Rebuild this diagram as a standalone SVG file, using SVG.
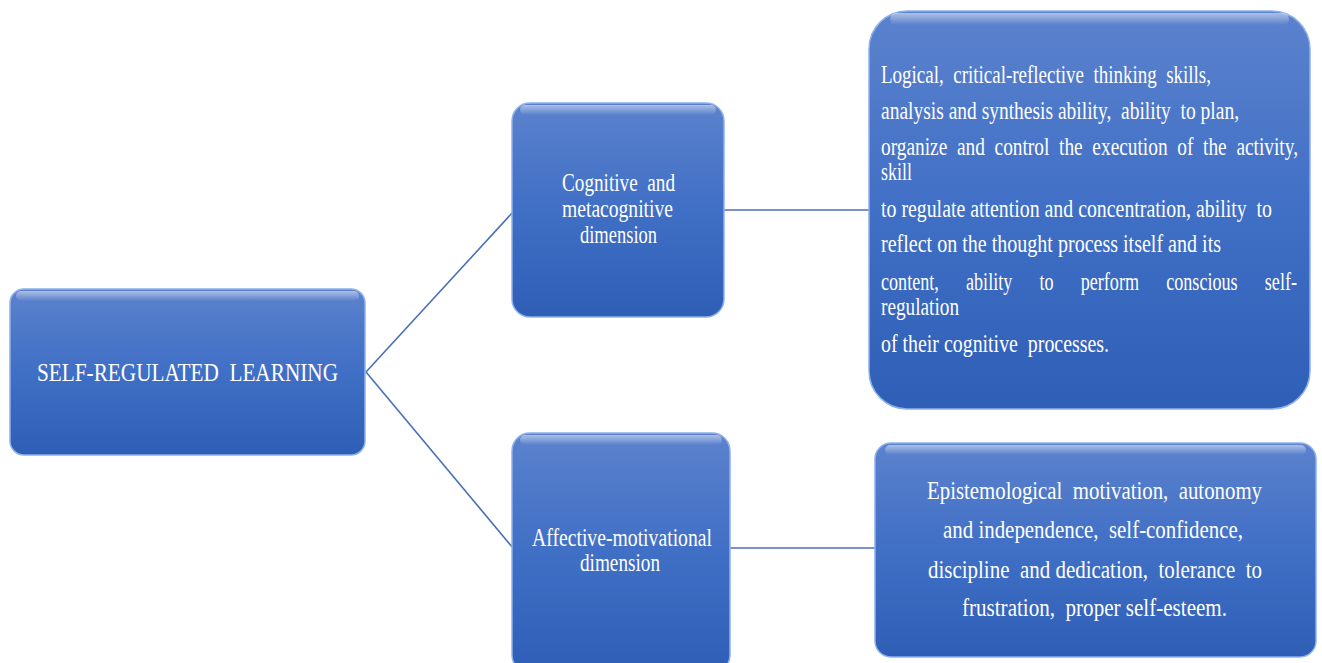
<svg xmlns="http://www.w3.org/2000/svg" width="1322" height="663" viewBox="0 0 1322 663">
<defs>
<linearGradient id="fill" x1="0" y1="0" x2="0" y2="1">
<stop offset="0" stop-color="#5b82cd"/>
<stop offset="0.5" stop-color="#406fc6"/>
<stop offset="1" stop-color="#2f5eb6"/>
</linearGradient>
<linearGradient id="gloss" x1="0" y1="0" x2="0" y2="1">
<stop offset="0" stop-color="#ffffff" stop-opacity="0.5"/>
<stop offset="1" stop-color="#ffffff" stop-opacity="0"/>
</linearGradient>
<style>
.box{fill:url(#fill);stroke:#8fb1ea;stroke-width:1.5}
.gl{fill:url(#gloss)}
.t{font-family:"Liberation Serif","Times New Roman",serif;fill:#ffffff;font-size:25px;white-space:pre}
.c{text-anchor:middle}
.conn{stroke:#4a6fb8;stroke-width:1.6;fill:none}
</style>
</defs>
<g id="connectors">
<line class="conn" x1="366" y1="372" x2="513" y2="212"/>
<line class="conn" x1="366" y1="372" x2="513" y2="548"/>
<line class="conn" x1="724" y1="210" x2="870" y2="210"/>
<line class="conn" x1="730" y1="548" x2="876" y2="548"/>
</g>
<g id="root">
<rect class="box" x="10" y="289" width="355" height="166" rx="14"/>
<rect class="gl" x="16" y="291" width="343" height="10" rx="5"/>
<text class="t c" x="187.5" y="381" font-size="27" textLength="301" lengthAdjust="spacingAndGlyphs">SELF-REGULATED  LEARNING</text>
</g>
<g id="cognitive">
<rect class="box" x="512" y="103" width="212" height="214" rx="18"/>
<rect class="gl" x="520" y="105" width="196" height="10" rx="5"/>
<text class="t c" x="618.5" y="191" textLength="113" lengthAdjust="spacingAndGlyphs">Cognitive  and</text>
<text class="t c" x="617.5" y="217" textLength="111" lengthAdjust="spacingAndGlyphs">metacognitive</text>
<text class="t c" x="618.5" y="243" textLength="77" lengthAdjust="spacingAndGlyphs">dimension</text>
</g>
<g id="cognitive-detail">
<rect class="box" x="869" y="11" width="441" height="398" rx="38"/>
<rect class="gl" x="890" y="13" width="399" height="12" rx="6"/>
<text class="t" x="881" y="83" textLength="330" lengthAdjust="spacingAndGlyphs">Logical,  critical-reflective  thinking  skills,</text>
<text class="t" x="881" y="119" textLength="358" lengthAdjust="spacingAndGlyphs">analysis and synthesis ability,  ability  to plan,</text>
<text class="t" x="881" y="155" textLength="417" lengthAdjust="spacingAndGlyphs">organize  and  control  the  execution  of  the  activity,</text>
<text class="t" x="881" y="180" textLength="31" lengthAdjust="spacingAndGlyphs">skill</text>
<text class="t" x="881" y="217" textLength="391" lengthAdjust="spacingAndGlyphs">to regulate attention and concentration, ability  to</text>
<text class="t" x="881" y="252" textLength="340" lengthAdjust="spacingAndGlyphs">reflect on the thought process itself and its</text>
<text class="t" x="881" y="290" textLength="416" lengthAdjust="spacingAndGlyphs">content,      ability      to      perform      conscious      self-</text>
<text class="t" x="881" y="315" textLength="78" lengthAdjust="spacingAndGlyphs">regulation</text>
<text class="t" x="881" y="352" textLength="228" lengthAdjust="spacingAndGlyphs">of their cognitive  processes.</text>
</g>
<g id="affective">
<rect class="box" x="512" y="433" width="218" height="240" rx="18"/>
<rect class="gl" x="520" y="435" width="202" height="10" rx="5"/>
<text class="t c" x="622" y="546" textLength="180" lengthAdjust="spacingAndGlyphs">Affective-motivational</text>
<text class="t c" x="620" y="571" textLength="80" lengthAdjust="spacingAndGlyphs">dimension</text>
</g>
<g id="affective-detail">
<rect class="box" x="875" y="443" width="441" height="214" rx="16"/>
<rect class="gl" x="885" y="445" width="421" height="10" rx="5"/>
<text class="t c" x="1094.5" y="499" textLength="335" lengthAdjust="spacingAndGlyphs">Epistemological  motivation,  autonomy</text>
<text class="t c" x="1093" y="538" textLength="300" lengthAdjust="spacingAndGlyphs">and independence,  self-confidence,</text>
<text class="t c" x="1095" y="578" textLength="334" lengthAdjust="spacingAndGlyphs">discipline  and dedication,  tolerance  to</text>
<text class="t c" x="1094.5" y="616" textLength="265" lengthAdjust="spacingAndGlyphs">frustration,  proper self-esteem.</text>
</g>
</svg>
